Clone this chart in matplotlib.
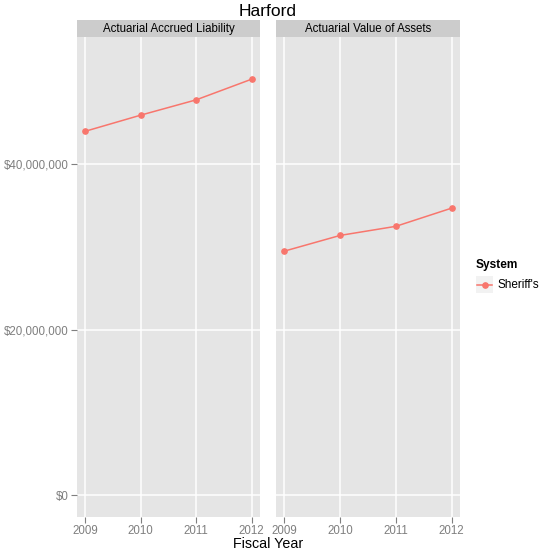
import matplotlib
matplotlib.use("Agg")
import matplotlib.pyplot as plt
from matplotlib.lines import Line2D
from matplotlib.ticker import FuncFormatter

plt.rcParams['font.family'] = ['Liberation Sans', 'DejaVu Sans']

years = [2009, 2010, 2011, 2012]
facets = ["Actuarial Accrued Liability", "Actuarial Value of Assets"]
liability = [44.0e6, 45.95e6, 47.8e6, 50.3e6]
assets = [29.5e6, 31.4e6, 32.5e6, 34.7e6]
series = [liability, assets]
system = "Sheriff's"

W, H = 542, 557
fig = plt.figure(figsize=(W / 100, H / 100), dpi=100)

line_col = "#F8766D"
panels = [(77, 260), (276, 460)]
top, bottom = 37, 517
strip_top = 20

def money(v, pos):
    return "${:,.0f}".format(v)

for i, (x0, x1) in enumerate(panels):
    ax = fig.add_axes([x0 / W, 1 - bottom / H, (x1 - x0) / W, (bottom - top) / H])
    ax.set_facecolor("#E5E5E5")
    ax.plot(years, series[i], color=line_col, lw=1.1, marker="o", ms=3.8, zorder=3)
    ax.set_xlim(2008.85, 2012.15)
    ax.set_ylim(-2.66e6, 55.4e6)
    ax.set_xticks(years)
    ax.set_yticks([0, 20e6, 40e6])
    ax.yaxis.set_major_formatter(FuncFormatter(money))
    ax.grid(True, color="white", lw=1.1)
    ax.set_axisbelow(True)
    for s in ax.spines.values():
        s.set_visible(False)
    ax.tick_params(colors="#7F7F7F", labelcolor="#7F7F7F", labelsize=8.3, length=4, width=0.8, pad=2)
    if i > 0:
        ax.tick_params(axis="y", left=False, labelleft=False)
    # strip
    sax = fig.add_axes([x0 / W, 1 - top / H, (x1 - x0) / W, (top - strip_top) / H])
    sax.set_facecolor("#CCCCCC")
    sax.set_xticks([])
    sax.set_yticks([])
    for s in sax.spines.values():
        s.set_visible(False)
    sax.text(0.5, 0.47, facets[i], ha="center", va="center", fontsize=8.3, transform=sax.transAxes)

fig.text(268 / W, 1 - 11 / H, "Harford", ha="center", va="center", fontsize=12.5)
fig.text(268 / W, 1 - 544 / H, "Fiscal Year", ha="center", va="center", fontsize=10.3)

# legend
fig.text(476 / W, 1 - 265 / H, "System", ha="left", va="center", fontsize=8.6, fontweight="bold")
kax = fig.add_axes([476 / W, 1 - 293 / H, 17 / W, 17 / H])
kax.set_facecolor("#F2F2F2")
kax.set_xticks([])
kax.set_yticks([])
for s in kax.spines.values():
    s.set_visible(False)
kax.add_line(Line2D([0.05, 0.95], [0.5, 0.5], color=line_col, lw=1.1, transform=kax.transAxes))
kax.plot([0.5], [0.5], marker="o", color=line_col, ms=3.8, transform=kax.transAxes)
fig.text(498 / W, 1 - 285 / H, system, ha="left", va="center", fontsize=8.5)

fig.savefig("out.png", dpi=100)
